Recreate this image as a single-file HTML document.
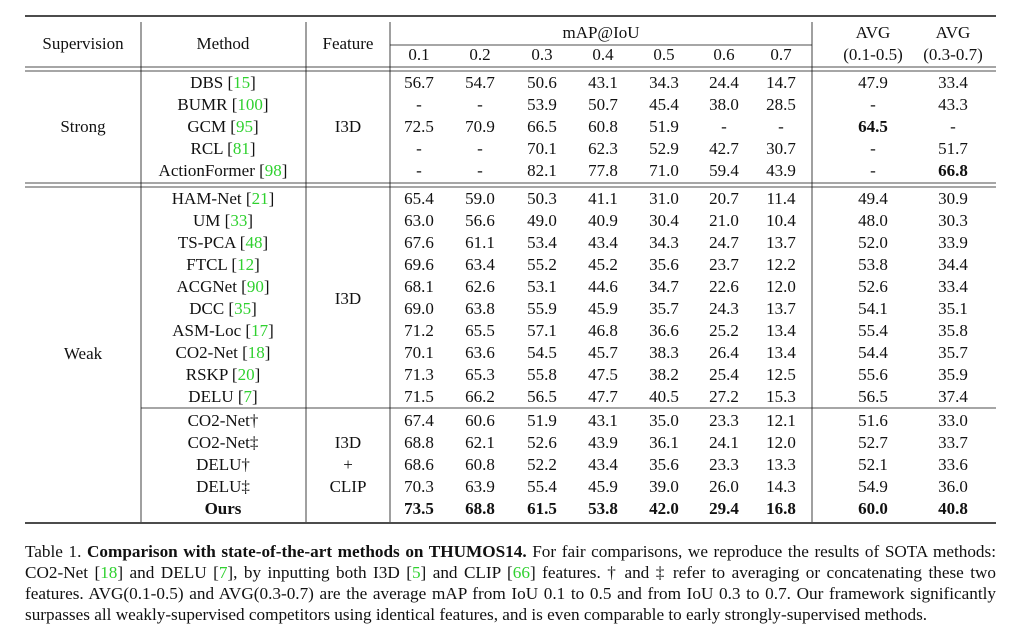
<!DOCTYPE html>
<html><head><meta charset="utf-8"><style>
body{margin:0;background:#fff;width:1024px;height:636px;overflow:hidden;position:relative;font-family:"Liberation Serif",serif;color:#111}
svg{position:absolute;left:0;top:0}
text{font-family:"Liberation Serif",serif;font-size:17px;fill:#111}
.g{fill:#2fd12f}
.b{font-weight:bold}
#cap{position:absolute;left:25px;top:541px;width:971px;font-size:17.2px;line-height:21px;text-align:justify;text-align-last:left}
#cap .g{color:#2fd12f}
</style></head><body>
<svg width="1024" height="636" text-anchor="middle">
<g stroke="#111" fill="none">
<line x1="25" x2="996" y1="16" y2="16" stroke-width="1.6"/>
<line x1="390" x2="812" y1="45" y2="45" stroke-width="0.8"/>
<line x1="25" x2="996" y1="67" y2="67" stroke-width="0.8"/>
<line x1="25" x2="996" y1="71" y2="71" stroke-width="0.8"/>
<line x1="25" x2="996" y1="183" y2="183" stroke-width="0.8"/>
<line x1="25" x2="996" y1="187" y2="187" stroke-width="0.8"/>
<line x1="141" x2="996" y1="408" y2="408" stroke-width="0.8"/>
<line x1="25" x2="996" y1="523" y2="523" stroke-width="1.6"/>
<line x1="141" x2="141" y1="22" y2="522" stroke-width="0.8"/>
<line x1="306" x2="306" y1="22" y2="522" stroke-width="0.8"/>
<line x1="390" x2="390" y1="22" y2="522" stroke-width="0.8"/>
<line x1="812" x2="812" y1="22" y2="522" stroke-width="0.8"/>
</g>
<text x="83" y="49">Supervision</text>
<text x="223" y="49">Method</text>
<text x="348" y="49">Feature</text>
<text x="601" y="38">mAP@IoU</text>
<text x="873" y="38">AVG</text><text x="953" y="38">AVG</text>
<g transform="translate(0,60)">
<text x="419">0.1</text><text x="480">0.2</text><text x="542">0.3</text><text x="603">0.4</text><text x="664">0.5</text><text x="724">0.6</text><text x="781">0.7</text><text x="873">(0.1-0.5)</text><text x="953">(0.3-0.7)</text>
</g>
<text x="83" y="132">Strong</text><text x="348" y="132">I3D</text>
<text x="83" y="359">Weak</text><text x="348" y="304">I3D</text>
<text x="348" y="448">I3D</text><text x="348" y="470">+</text><text x="348" y="492">CLIP</text>

<g id="rows"></g>
</svg>
<div id="cap">Table 1. <b>Comparison with state-of-the-art methods on THUMOS14.</b> For fair comparisons, we reproduce the results of SOTA methods: CO2-Net [<span class="g">18</span>] and DELU [<span class="g">7</span>], by inputting both I3D [<span class="g">5</span>] and CLIP [<span class="g">66</span>] features. † and ‡ refer to averaging or concatenating these two features. AVG(0.1-0.5) and AVG(0.3-0.7) are the average mAP from IoU 0.1 to 0.5 and from IoU 0.3 to 0.7. Our framework significantly surpasses all weakly-supervised competitors using identical features, and is even comparable to early strongly-supervised methods.</div>
<script>
var R=[
[82,"DBS","15","56.7 54.7 50.6 43.1 34.3 24.4 14.7 47.9 33.4",""],
[104,"BUMR","100","- - 53.9 50.7 45.4 38.0 28.5 - 43.3",""],
[126,"GCM","95","72.5 70.9 66.5 60.8 51.9 - - 64.5 -","7"],
[148,"RCL","81","- - 70.1 62.3 52.9 42.7 30.7 - 51.7",""],
[170,"ActionFormer","98","- - 82.1 77.8 71.0 59.4 43.9 - 66.8","8"],
[198,"HAM-Net","21","65.4 59.0 50.3 41.1 31.0 20.7 11.4 49.4 30.9",""],
[220,"UM","33","63.0 56.6 49.0 40.9 30.4 21.0 10.4 48.0 30.3",""],
[242,"TS-PCA","48","67.6 61.1 53.4 43.4 34.3 24.7 13.7 52.0 33.9",""],
[264,"FTCL","12","69.6 63.4 55.2 45.2 35.6 23.7 12.2 53.8 34.4",""],
[286,"ACGNet","90","68.1 62.6 53.1 44.6 34.7 22.6 12.0 52.6 33.4",""],
[308,"DCC","35","69.0 63.8 55.9 45.9 35.7 24.3 13.7 54.1 35.1",""],
[330,"ASM-Loc","17","71.2 65.5 57.1 46.8 36.6 25.2 13.4 55.4 35.8",""],
[352,"CO2-Net","18","70.1 63.6 54.5 45.7 38.3 26.4 13.4 54.4 35.7",""],
[374,"RSKP","20","71.3 65.3 55.8 47.5 38.2 25.4 12.5 55.6 35.9",""],
[396,"DELU","7","71.5 66.2 56.5 47.7 40.5 27.2 15.3 56.5 37.4",""],
[420,"CO2-Net†","","67.4 60.6 51.9 43.1 35.0 23.3 12.1 51.6 33.0",""],
[442,"CO2-Net‡","","68.8 62.1 52.6 43.9 36.1 24.1 12.0 52.7 33.7",""],
[464,"DELU†","","68.6 60.8 52.2 43.4 35.6 23.3 13.3 52.1 33.6",""],
[486,"DELU‡","","70.3 63.9 55.4 45.9 39.0 26.0 14.3 54.9 36.0",""],
[508,"Ours","","73.5 68.8 61.5 53.8 42.0 29.4 16.8 60.0 40.8","all"]];
var X=[419,480,542,603,664,724,781,873,953],h="";
R.forEach(function(r){var y=r[0]+6;var all=r[4]=="all";
h+='<text x="223" y="'+y+'"'+(all?' class="b"':'')+'>'+r[1]+(r[2]?' [<tspan class="g">'+r[2]+'</tspan>]':'')+'</text>';
r[3].split(" ").forEach(function(v,i){var b=all||(r[4]=="7"&&i==7)||(r[4]=="8"&&i==8);
h+='<text x="'+X[i]+'" y="'+y+'"'+(b?' class="b"':'')+'>'+v+'</text>';});});
document.getElementById("rows").innerHTML=h;
</script>
</body></html>
